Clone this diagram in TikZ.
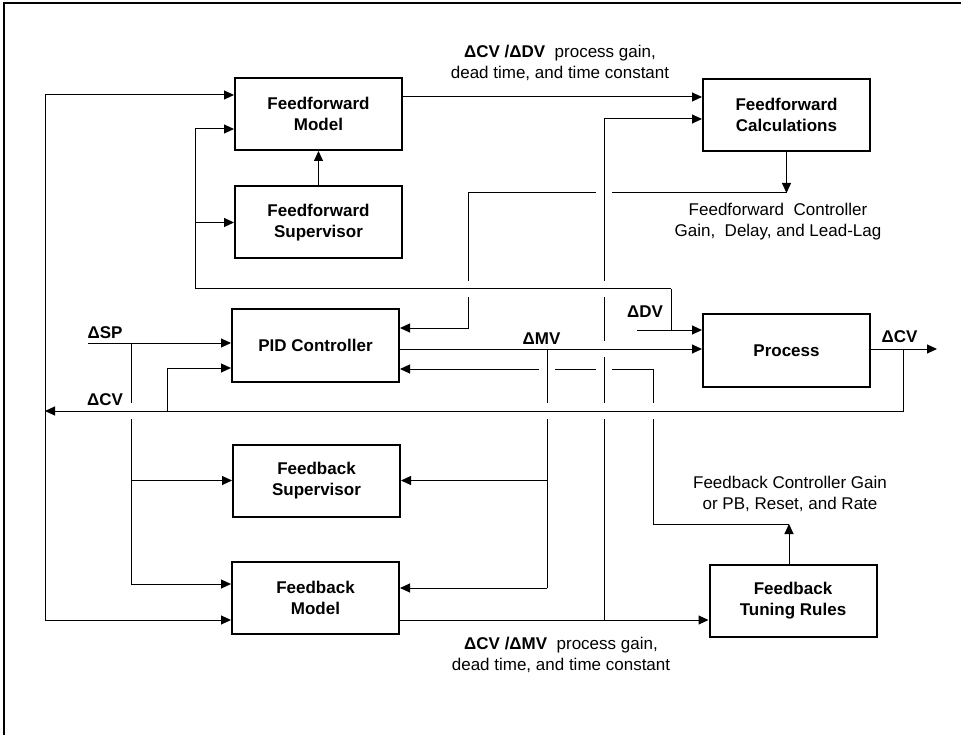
\documentclass[tikz,border=0pt]{standalone}
\usepackage{fontspec}
\setmainfont{Liberation Sans}
\usetikzlibrary{arrows.meta}

\tikzset{
	block/.style={draw, line width=2pt, minimum width=167pt, minimum height=72pt, inner sep=0pt, align=center, font=\fontsize{17}{21}\selectfont\bfseries},
	wire/.style={line width=1pt},
	sig/.style={wire, -{Triangle[length=10pt,width=9pt]}},
	lbl/.style={align=center, inner sep=0pt, font=\fontsize{17}{21}\selectfont},
	tag/.style={inner sep=0pt, font=\fontsize{17}{21}\selectfont\bfseries},
}
\newcommand{\gapv}[1]{\coordinate (gp) at #1; \fill[white] ([shift={(-2.5,-8)}]gp) rectangle ([shift={(2.5,8)}]gp); \draw[wire] ([xshift=-4pt]gp) -- ([xshift=4pt]gp);}
\newcommand{\gaph}[1]{\coordinate (gp) at #1; \fill[white] ([shift={(-8,-2.5)}]gp) rectangle ([shift={(8,2.5)}]gp); \draw[wire] ([yshift=-4pt]gp) -- ([yshift=4pt]gp);}

\begin{document}
\begin{tikzpicture}[x=1pt,y=-1pt]
		\useasboundingbox (0,0) rectangle (961,735);
		\draw[line width=2.7pt] (961,3) -- (4,3) -- (4,735);

		\node[block] (ffmod) at (318.5,114) {Feedforward\\Model};
		\node[block] (ffsup) at (318.5,222.5) {Feedforward\\Supervisor};
		\node[block] (ffcalc) at (786.5,115) {Feedforward\\Calculations};
		\node[block] (pid) at (315.5,345.5) {PID Controller};
		\node[block] (proc) at (786.5,350.5) {Process};
		\node[block] (fbsup) at (316.5,480.5) {Feedback\\Supervisor};
		\node[block] (fbmod) at (315.5,598) {Feedback\\Model};
		\node[block] (fbtune) at (793,600.5) {Feedback\\Tuning Rules};

		\coordinate (cvout) at (903,349);
		\coordinate (cvend) at (937,349);
		\coordinate (cvret) at (903,411);
		\coordinate (cvleft) at (45,411);
		\coordinate (bustop) at (45,95);
		\coordinate (busbot) at (45,620);
		\coordinate (sp) at (88,343);
		\coordinate (spdn) at (131,343);
		\coordinate (spbot) at (131,584);
		\coordinate (cvup) at (167,411);
		\coordinate (cvpid) at (167,368);
		\coordinate (dvtop) at (195,129);
		\coordinate (dvbot) at (195,289);
		\coordinate (dvcorner) at (671,289);
		\coordinate (dvin) at (637,330);
		\coordinate (ffcout) at (786.5,193);
		\coordinate (ffcturn) at (468,193);
		\coordinate (ffcpid) at (468,328);
		\coordinate (mvtap) at (547,349);
		\coordinate (mvbot) at (547,588);
		\coordinate (fbtap) at (604,620);
		\coordinate (fbtop) at (604,119);
		\coordinate (tuneout) at (789,524);
		\coordinate (tuneturn) at (653,524);
		\coordinate (tunepid) at (653,369);

		\draw[sig] (busbot) -- (bustop) -- (bustop -| ffmod.west);
		\draw[sig] (busbot) -- (busbot -| fbmod.west);
		\draw[sig] (proc.east |- cvout) -- (cvend);
		\draw[sig] (cvout) -- (cvret) -- (cvleft);
		\draw[sig] (sp) -- (sp -| pid.west);
		\draw[wire] (spdn) -- (spbot);
		\draw[sig] (spdn |- fbsup.west) -- (fbsup.west);
		\draw[sig] (spbot) -- (spbot -| fbmod.west);
		\draw[sig] (cvup) -- (cvpid) -- (cvpid -| pid.west);
		\draw[sig] (dvcorner) -- (dvbot) -- (dvtop) -- (dvtop -| ffmod.west);
		\draw[sig] (dvbot |- ffsup.west) -- (ffsup.west);
		\draw[wire] (dvcorner) -- (dvcorner |- dvin);
		\draw[sig] (dvin) -- (dvin -| proc.west);
		\draw[sig] ([yshift=17pt]ffmod.east) -- ([yshift=17pt]ffmod.east -| ffcalc.west);
		\draw[sig] (ffsup.north) -- (ffmod.south);
		\draw[sig] (ffcalc.south) -- (ffcout);
		\draw[sig] (ffcout) -- (ffcturn) -- (ffcpid) -- (ffcpid -| pid.east);
		\draw[sig] (pid.east |- mvtap) -- (mvtap -| proc.west);
		\draw[wire] (mvtap) -- (mvbot);
		\draw[sig] (mvtap |- fbsup.east) -- (fbsup.east);
		\draw[sig] (mvbot) -- (mvbot -| fbmod.east);
		\draw[sig] (fbtap -| fbmod.east) -- (fbtap -| fbtune.west);
		\draw[sig] (fbtap) -- (fbtop) -- (fbtop -| ffcalc.west);
		\draw[sig] (fbtune.north -| tuneout) -- (tuneout);
		\draw[sig] (tuneout) -- (tuneturn) -- (tunepid) -- (tunepid -| pid.east);

		% line hops
		\gapv{(fbtap |- dvbot)}
		\gapv{(ffcturn |- dvbot)}
		\gapv{(fbtap |- mvtap)}
		\gapv{(fbtap |- cvret)}
		\gapv{(mvtap |- cvret)}
		\gapv{(tuneturn |- cvret)}
		\gapv{(spdn |- cvret)}
		\gaph{(fbtap |- ffcout)}
		\gaph{(fbtap |- tunepid)}
		\gaph{(mvtap |- tunepid)}

		\node[lbl] (fftxt) at (560,63) {\textbf{ΔCV /ΔDV}\ \ process gain,\\dead time, and time constant};
		\node[lbl] (fbtxt) at (561,655) {\textbf{ΔCV /ΔMV}\ \ process gain,\\dead time, and time constant};
		\node[lbl] (ffctxt) at (778,222) {Feedforward\ \ Controller\\Gain,\ \ Delay, and Lead-Lag};
		\node[lbl] (tunetxt) at (790,494) {Feedback Controller Gain\\or PB, Reset, and Rate};
		\node[tag] (tagsp) at (105,333) {ΔSP};
		\node[tag] (tagcv) at (105,400) {ΔCV};
		\node[tag] (tagdv) at (645,312) {ΔDV};
		\node[tag] (tagmv) at (541.5,338.5) {ΔMV};
		\node[tag] (tagcvout) at (899.5,337) {ΔCV};
\end{tikzpicture}
\end{document}
